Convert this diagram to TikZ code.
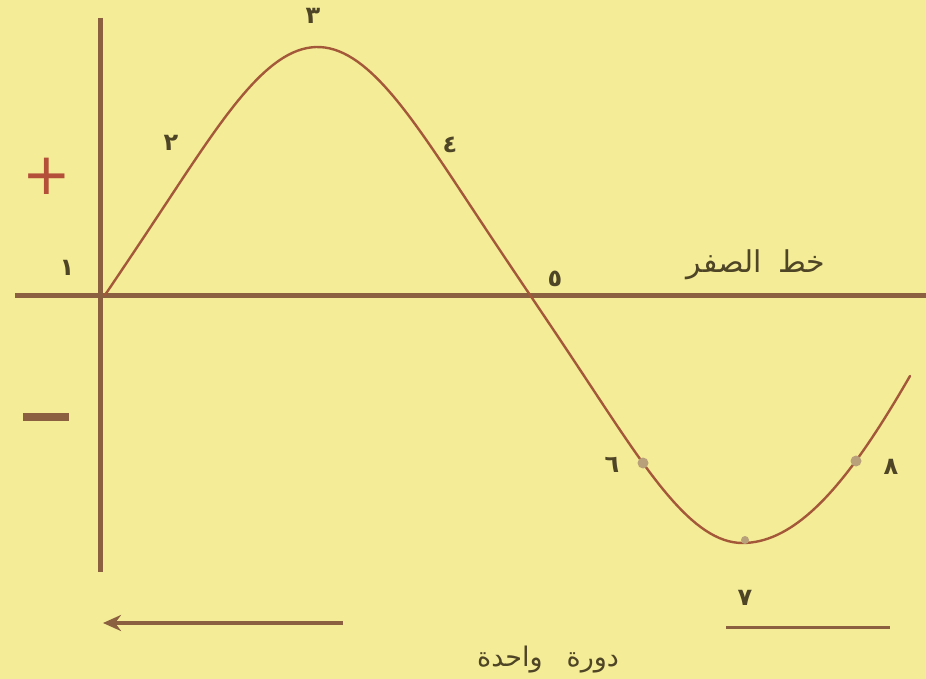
\documentclass[tikz,border=0pt]{standalone}
\usepackage{fontspec}
\newfontfamily\arabicfont[Script=Arabic]{DejaVu Sans}
\newfontfamily\arabicbold[Script=Arabic]{DejaVu Sans Bold}
\newfontfamily\signfont{DejaVu Sans}
\TeXXeTstate=1
\usetikzlibrary{arrows.meta}
\definecolor{bgyellow}{HTML}{F4EC96}
\definecolor{axisbrown}{HTML}{8A6040}
\definecolor{curvebrown}{HTML}{A4583A}
\definecolor{inkdark}{HTML}{4E4426}
\definecolor{plusred}{HTML}{B4503A}
\definecolor{markgrey}{HTML}{B8A07A}
\tikzset{
  axisline/.style={draw=axisbrown, line width=5pt},
  curveline/.style={draw=curvebrown, line width=2.4pt},
  numlabel/.style={text=inkdark, font=\arabicbold\fontsize{24}{26}\selectfont, inner sep=0pt},
  wordlabel/.style={text=inkdark, font=\arabicfont\fontsize{30}{32}\selectfont, inner sep=0pt},
  cyclelabel/.style={text=inkdark, font=\arabicfont\fontsize{27}{29}\selectfont, inner sep=0pt},
  signlabel/.style={inner sep=0pt, font=\signfont\fontsize{58}{58}\selectfont},
  ptmark/.style={circle, fill=markgrey, minimum size=11pt, inner sep=0pt},
}
\begin{document}
\begin{tikzpicture}[x=1pt, y=-1pt]
\fill[bgyellow] (0,0) rectangle (926,679);
\useasboundingbox (0,0) rectangle (926,679);
% axes
\coordinate (ytop) at (100,18);
\coordinate (ybot) at (100,572);
\coordinate (xleft) at (15,295);
\coordinate (xright) at (926,295);
\draw[axisline] (ytop) -- (ybot);
\draw[axisline] (xleft) -- (xright);
% wave curve
\draw[curveline, line cap=round]
  plot[domain=105:742.5, samples=140]
    (\x, {295-248*(sin((\x-105)/425*180)-0.05*sin(3*(\x-105)/425*180))/1.05})
  -- plot[domain=742.5:910, samples=40]
    (\x, {295+248*sin((\x-530)/425*180)});
% point markers
\node[ptmark] (p6) at (643,463) {};
\node[ptmark, minimum size=8pt] (p7) at (745,540) {};
\node[ptmark] (p8) at (856,461) {};
% signs
\node[signlabel, text=plusred] (plus) at (47,176) {+};
\node[inner sep=0pt, text=axisbrown] (minus) at (46,417) {\rule{47pt}{8pt}};
% numeric labels
\node[numlabel] (n1) at (67,268) {\beginR ١\endR};
\node[numlabel] (n2) at (171,143) {\beginR ٢\endR};
\node[numlabel] (n3) at (313,16) {\beginR ٣\endR};
\node[numlabel] (n4) at (450,145) {\beginR ٤\endR};
\node[numlabel] (n5) at (555,279) {\beginR ٥\endR};
\node[numlabel] (n6) at (612,465) {\beginR ٦\endR};
\node[numlabel] (n7) at (745,598) {\beginR ٧\endR};
\node[numlabel] (n8) at (891,467) {\beginR ٨\endR};
% zero line label
\node[wordlabel] (zero) at (756,265) {\beginR خط\hspace{16pt}الصفر\endR};
% one cycle
\coordinate (arrowstart) at (343,623);
\coordinate (arrowend) at (103,623);
\coordinate (linestart) at (726,627);
\coordinate (lineend) at (890,627);
\draw[draw=axisbrown, line width=3.5pt, -{Stealth[length=18pt, width=16pt]}] (arrowstart) -- (arrowend);
\draw[draw=axisbrown, line width=3pt] (linestart) -- (lineend);
\node[cyclelabel] (cycle) at (548,660) {\beginR دورة\hspace{24pt}واحدة\endR};
\end{tikzpicture}
\end{document}
